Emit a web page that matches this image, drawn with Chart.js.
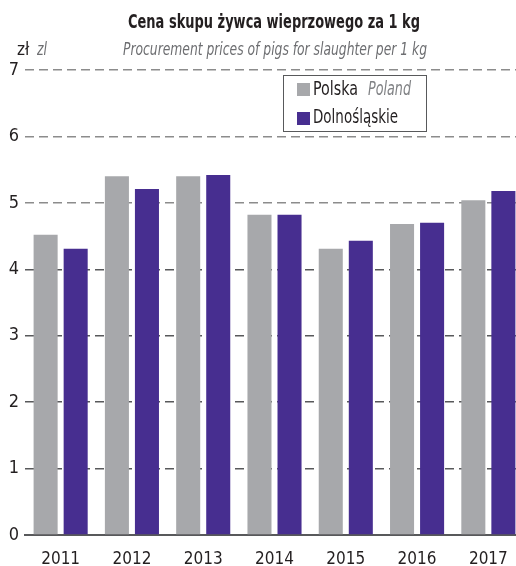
<!DOCTYPE html>
<html>
<head>
<meta charset="utf-8">
<script src="https://cdn.jsdelivr.net/npm/chart.js@4.4.1/dist/chart.umd.min.js"></script>
<style>
  html, body { margin: 0; padding: 0; overflow: hidden; background: #fff; }
  #wrap { position: relative; width: 524px; height: 566px; }
</style>
</head>
<body>
<div id="wrap"><canvas id="chart" width="524" height="566"></canvas></div>
<script>
// chart data
const years = ['2011', '2012', '2013', '2014', '2015', '2016', '2017'];
const polska = [4.52, 5.40, 5.40, 4.82, 4.31, 4.68, 5.04];
const dolnoslaskie = [4.31, 5.21, 5.42, 4.82, 4.43, 4.70, 5.18];
const yTicks = [0, 1, 2, 3, 4, 5, 6, 7];

const FONT = "'Liberation Sans Narrow', 'DejaVu Sans Condensed', Roboto, sans-serif";
const GRAY = '#a7a8ab';
const PURPLE = '#472e90';

// title, unit label and boxed legend drawn on top of the chart
const annotations = {
    id: 'annotations',
    afterDraw(chart) {
        const ctx = chart.ctx;
        ctx.save();
        ctx.textBaseline = 'middle';

        ctx.fillStyle = '#231f20';
        ctx.textAlign = 'center';
        ctx.font = `bold 19px ${FONT}`;
        ctx.fillText('Cena skupu żywca wieprzowego za 1 kg', 274, 23, 292);
        ctx.fillStyle = '#6d6e71';
        ctx.font = `italic 18px ${FONT}`;
        ctx.fillText('Procurement prices of pigs for slaughter per 1 kg', 275, 50, 304);

        // unit
        ctx.textAlign = 'left';
        ctx.fillStyle = '#231f20';
        ctx.font = `17px ${FONT}`;
        ctx.fillText('zł', 17, 51, 13);
        ctx.fillStyle = '#6d6e71';
        ctx.font = `italic 17px ${FONT}`;
        ctx.fillText('zl', 37, 51, 10);

        // legend box
        ctx.fillStyle = '#fff';
        ctx.fillRect(283, 75, 144, 57);
        ctx.strokeStyle = '#58595b';
        ctx.lineWidth = 1;
        ctx.strokeRect(283.5, 75.5, 143, 56);

        ctx.fillStyle = GRAY;
        ctx.fillRect(297, 83, 13, 13);
        ctx.fillStyle = PURPLE;
        ctx.fillRect(297, 112, 13, 13);

        ctx.fillStyle = '#231f20';
        ctx.font = `19px ${FONT}`;
        ctx.fillText('Polska', 313, 90, 45);
        ctx.fillText('Dolnośląskie', 313, 118, 85);
        ctx.fillStyle = '#808285';
        ctx.font = `italic 19px ${FONT}`;
        ctx.fillText('Poland', 368, 90, 43);
        ctx.restore();
    }
};

new Chart(document.getElementById('chart'), {
    type: 'bar',
    data: {
        labels: years,
        datasets: [{
            label: 'Polska',
            data: polska,
            backgroundColor: GRAY,
            categoryPercentage: 0.843,
            barPercentage: 0.8
        }, {
            label: 'Dolnośląskie',
            data: dolnoslaskie,
            backgroundColor: PURPLE,
            categoryPercentage: 0.843,
            barPercentage: 0.8
        }]
    },
    options: {
        responsive: false,
        animation: false,
        layout: { padding: { top: 70, right: 0, left: 0, bottom: 0 } },
        plugins: {
            legend: { display: false },
            tooltip: { enabled: false }
        },
        scales: {
            x: {
                grid: { display: false },
                border: { display: true, color: '#58595b', width: 2 },
                ticks: {
                    color: '#231f20',
                    padding: 6,
                    font: { family: FONT, size: 17 }
                },
                afterFit(scale) { scale.height = 31; }
            },
            y: {
                min: 0,
                max: 7,
                afterBuildTicks(scale) { scale.ticks = yTicks.map(v => ({ value: v })); },
                border: { display: false, dash: [9, 5] },
                grid: {
                    drawTicks: false,
                    lineWidth: 1.5,
                    color: ctx => ctx.tick && ctx.tick.value <= 4 ? '#58595b' : '#8c8c8c'
                },
                ticks: {
                    color: '#231f20',
                    padding: 6,
                    font: { family: FONT, size: 18 }
                },
                afterFit(scale) { scale.width = 25; }
            }
        }
    },
    plugins: [annotations]
});
</script>
</body>
</html>
